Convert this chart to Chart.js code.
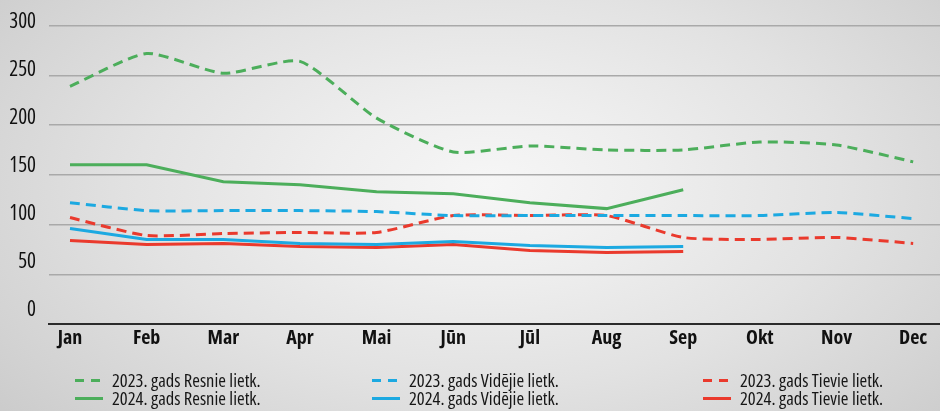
<!DOCTYPE html>
<html><head><meta charset="utf-8">
<script src="https://cdn.jsdelivr.net/npm/chart.js@4"></script>
<style>
html,body{margin:0;padding:0;width:940px;height:411px;overflow:hidden;}
body{position:relative;background:radial-gradient(ellipse 68% 88% at 52% 45%, #f6f6f6 0%, #eeeeee 25%, #e2e2e2 55%, #d3d3d3 85%, #cbcbcb 100%);font-family:'Open Sans',sans-serif;}
#wrap{position:absolute;left:0;top:0;width:940px;height:411px;}
.lg{position:absolute;display:flex;align-items:center;font-size:18.5px;font-stretch:75%;color:#161616;white-space:nowrap;height:18px;line-height:18px;}
.sw{width:28px;height:3px;margin-right:9px;flex:none;}
</style></head><body>
<div id="wrap"><canvas id="c" width="940" height="411"></canvas></div>
<div id="legend"></div>
<script>
const months = ['Jan','Feb','Mar','Apr','Mai','Jūn','Jūl','Aug','Sep','Okt','Nov','Dec'];
const yTicks = [0,50,100,150,200,250,300];
const resnie2023  = [239,272,252,264,207,173,179,175,175,183,180,163];
const videjie2023 = [122,114,114,114,113,109,109,109,109,109,112,106];
const tievie2023  = [107,89,91,92,92,109,109,109,87,85,87,81];
const resnie2024  = [160,160,143,140,133,131,122,116,135];
const videjie2024 = [96,85,85,81,80,83,79,77,78];
const tievie2024  = [84,80,81,78,77,80,74,72,73];

const GREEN='#4cae5b', BLUE='#1ca9e1', RED='#ea3a2d';
const FONT="'Open Sans', 'DejaVu Sans', sans-serif";
const pts = arr => arr.map((v,i)=>({x:i,y:v}));
const ds = (label,arr,color,dashed)=>({label,data:pts(arr),borderColor:color,backgroundColor:color,
  borderWidth:3,borderDash:dashed?[10,6]:[],pointRadius:0,tension:dashed?0.2:0,fill:false});

const chart = new Chart(document.getElementById('c'),{
  type:'line',
  data:{datasets:[
    ds('2023. gads Resnie lietk.',resnie2023,GREEN,true),
    ds('2023. gads Vidējie lietk.',videjie2023,BLUE,true),
    ds('2023. gads Tievie lietk.',tievie2023,RED,true),
    ds('2024. gads Resnie lietk.',resnie2024,GREEN,false),
    ds('2024. gads Vidējie lietk.',videjie2024,BLUE,false),
    ds('2024. gads Tievie lietk.',tievie2024,RED,false)
  ]},
  options:{
    responsive:false,animation:false,
    layout:{padding:{top:24,right:0,bottom:0,left:0}},
    plugins:{legend:{display:false},tooltip:{enabled:false},title:{display:false}},
    scales:{
      x:{type:'linear',min:-0.274,max:11.35,position:'bottom',
        afterFit:s=>{s.height=87;},
        grid:{display:false,drawTicks:false},
        border:{display:true,color:'#2b2b2b',width:2},
        ticks:{stepSize:1,includeBounds:false,autoSkip:false,maxRotation:0,padding:2,color:'#111',
          font:{family:FONT,size:20,weight:'condensed 700'},
          callback:v=>months[v]??''}},
      y:{min:0,max:300,position:'left',afterFit:s=>{s.width=0;},
        ticks:{display:false,stepSize:50},border:{display:false},
        grid:{color:c=>c.tick&&c.tick.value===0?'rgba(0,0,0,0)':'#a9a9a9',lineWidth:1.5,drawTicks:false}},
      yl:{position:'left',min:-14.8,max:296.6,afterFit:s=>{s.width=49;},
        afterBuildTicks:s=>{s.ticks=yTicks.map(v=>({value:v}));},
        grid:{display:false,drawTicks:false},border:{display:false},
        ticks:{padding:13,color:'#111',font:{family:FONT,size:21,weight:'condensed 400'}}}
    }
  }
});

// HTML legend built from the chart datasets
const cols=[75,372,703], rows=[371,389];
const lg=document.getElementById('legend');
chart.data.datasets.forEach((d,i)=>{
  const el=document.createElement('div');el.className='lg';
  el.style.left=cols[i%3]+'px';el.style.top=rows[Math.floor(i/3)]+'px';
  const sw=document.createElement('div');sw.className='sw';
  sw.style.background=d.borderDash.length?`repeating-linear-gradient(to right, ${d.borderColor} 0 9px, transparent 9px 16px)`:d.borderColor;
  const t=document.createElement('span');t.textContent=d.label;
  el.appendChild(sw);el.appendChild(t);lg.appendChild(el);
});
</script>
</body></html>
